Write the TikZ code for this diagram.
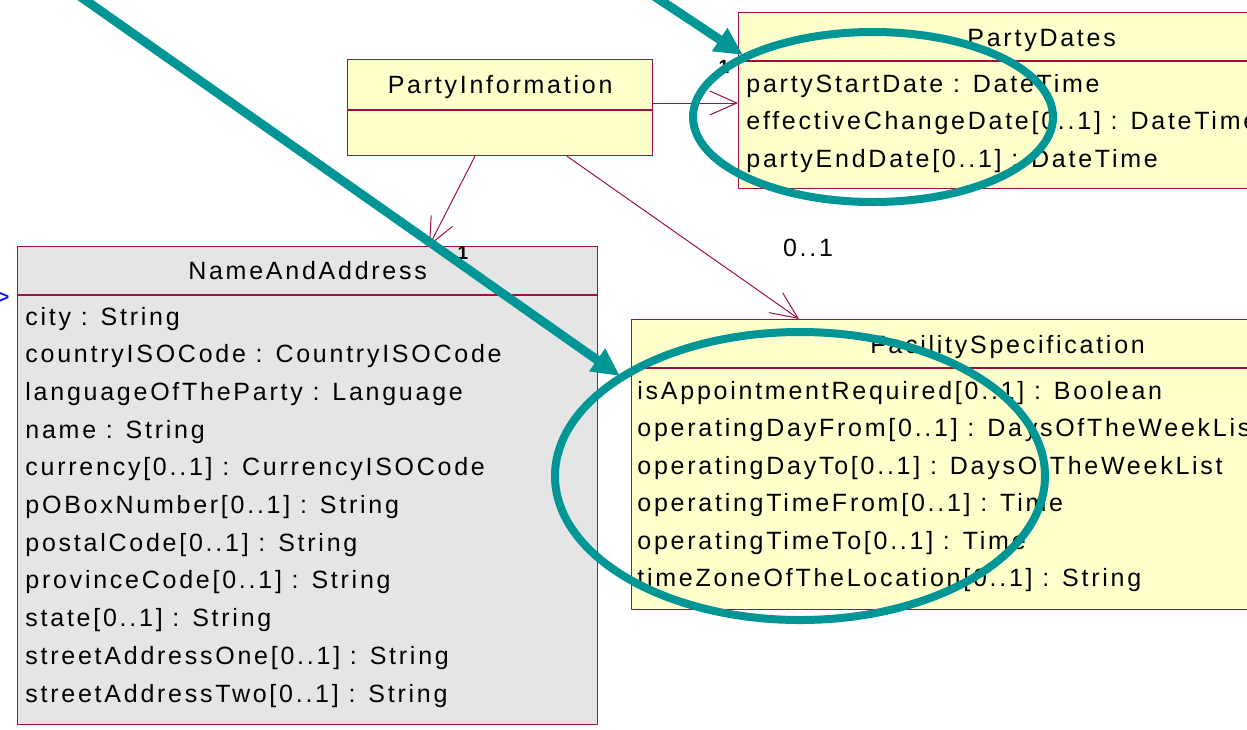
\documentclass[tikz,border=0pt]{standalone}
\usepackage{fontspec}
\setmainfont{Liberation Sans}[LetterSpace=11]
\usetikzlibrary{arrows.meta}
\definecolor{umlfill}{RGB}{255,255,204}
\definecolor{umlgrey}{RGB}{229,229,229}
\definecolor{umlline}{RGB}{160,16,64}
\definecolor{markteal}{RGB}{0,150,150}
\begin{document}
\begin{tikzpicture}[x=0.5pt,y=-0.5pt,line join=round]
\tikzset{every node/.style={font=\fontsize{12.5}{15}\selectfont,inner sep=0pt},
  classbox/.style={draw=umlline,fill=umlfill,line width=0.6pt,anchor=north west},
  divider/.style={draw=umlline,line width=0.6pt},
  classname/.style={anchor=base},
  attr/.style={anchor=base west},
  mult/.style={font=\fontsize{9.5}{11}\selectfont\bfseries},
  assoc/.style={draw=umlline,line width=0.5pt,-{Straight Barb[length=13.5pt,width=12pt]}},
  pointer/.style={draw=markteal,line width=4.5pt,-{Triangle[length=14pt,width=13pt]}},
  highlight/.style={draw=markteal,line width=4pt}}
\useasboundingbox (0,0) rectangle (1247,729);
\clip (0,0) rectangle (1247,729);

\node[text=blue,anchor=east] (stereo) at (10,298) {>};

\node[classbox,minimum width=152.5pt,minimum height=48pt] (pinfo) at (347,59) {};
\node[classbox,minimum width=303pt,minimum height=88pt] (pdates) at (738,12) {};
\node[classbox,fill=umlgrey,minimum width=290pt,minimum height=239pt] (naddr) at (17,246) {};
\node[classbox,minimum width=376pt,minimum height=145pt] (facil) at (631,319) {};
\foreach \c/\d in {pinfo/51,pdates/49,naddr/49,facil/49}
  \draw[divider] ([shift={(0,\d)}]\c.north west) -- ([shift={(0,\d)}]\c.north east);

\node[classname] (pinfo-t) at ([shift={(0,34)}]pinfo.north) {PartyInformation};
\node[classname] (pdates-t) at ([shift={(0,34)}]pdates.north) {PartyDates};
\node[classname] (naddr-t) at ([shift={(0,33)}]naddr.north) {NameAndAddress};
\node[classname] (facil-t) at ([shift={(0,34)}]facil.north) {FacilitySpecification};

\foreach \a [count=\i] in {partyStartDate : DateTime,effectiveChangeDate[0..1] : DateTime,
    partyEndDate[0..1] : DateTime}{
  \pgfmathsetmacro\dy{80+37.5*(\i-1)}
  \node[attr] (pdates-\i) at ([shift={(8,\dy)}]pdates.north west) {\a};
}
\foreach \a [count=\i] in {city : String,countryISOCode : CountryISOCode,
    languageOfTheParty : Language,name : String,currency[0..1] : CurrencyISOCode,
    pOBoxNumber[0..1] : String,postalCode[0..1] : String,provinceCode[0..1] : String,
    state[0..1] : String,streetAddressOne[0..1] : String,streetAddressTwo[0..1] : String}{
  \pgfmathsetmacro\dy{79+37.7*(\i-1)}
  \node[attr] (naddr-\i) at ([shift={(8,\dy)}]naddr.north west) {\a};
}
\foreach \a [count=\i] in {isAppointmentRequired[0..1] : Boolean,
    operatingDayFrom[0..1] : DaysOfTheWeekList,operatingDayTo[0..1] : DaysOfTheWeekList,
    operatingTimeFrom[0..1] : Time,operatingTimeTo[0..1] : Time,
    timeZoneOfTheLocation[0..1] : String}{
  \pgfmathsetmacro\dy{80+37.5*(\i-1)}
  \node[attr] (facil-\i) at ([shift={(6,\dy)}]facil.north west) {\a};
}

\draw[assoc] ([shift={(0,44)}]pinfo.north east) coordinate (pinfo-e) -- (pinfo-e -| pdates.west);
\draw[assoc] ([shift={(128,0)}]pinfo.south west) -- ([shift={(412,0)}]naddr.north west);
\draw[assoc] ([shift={(220,0)}]pinfo.south west) -- ([shift={(168,0)}]facil.north west);
\node[mult] (pdates-m) at ([shift={(-14,55)}]pdates.north west) {1};
\node[mult] (naddr-m) at ([shift={(446,7)}]naddr.north west) {1};
\node (facil-m) at ([shift={(177,-71)}]facil.north west) {0..1};

\coordinate (hintA) at (71,-10);
\coordinate (hintB) at (645,-10);
\draw[pointer] (hintA) -- ([shift={(-11,57)}]facil.north west);
\draw[pointer] (hintB) -- ([shift={(5,43)}]pdates.north west);
\draw[highlight] (873,117) ellipse [x radius=90pt,y radius=42.5pt];
\draw[highlight] (800,476) ellipse [x radius=122.5pt,y radius=72pt];
\end{tikzpicture}
\end{document}
